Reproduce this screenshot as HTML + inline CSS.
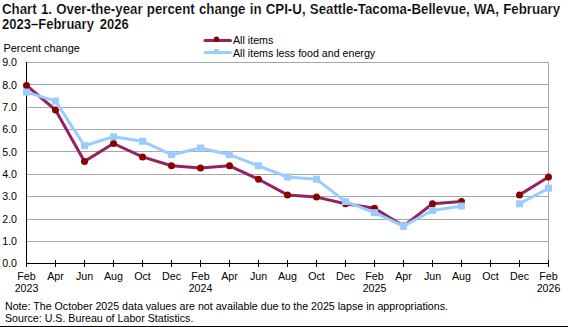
<!DOCTYPE html>
<html><head><meta charset="utf-8"><style>
html,body{margin:0;padding:0;background:#fff;}
body{width:568px;height:327px;position:relative;overflow:hidden;font-family:"Liberation Sans",sans-serif;color:#000;}
.t{-webkit-text-stroke:0.2px #fff;position:absolute;left:1.64px;top:1.6px;font-weight:bold;font-size:14px;line-height:15px;white-space:nowrap;word-spacing:0.54px;transform:scaleX(0.949);transform-origin:0 0;}
.pc{position:absolute;left:3.5px;top:42px;font-size:10.9px;line-height:12px;white-space:nowrap;}
.lg{position:absolute;left:233px;font-size:10.67px;line-height:12px;white-space:nowrap;}
.yl{position:absolute;left:0;width:17px;text-align:right;font-size:10.67px;line-height:12px;}
.xl{position:absolute;top:271px;width:40px;text-align:center;font-size:10.67px;line-height:11.7px;}
.ft{position:absolute;left:5px;font-size:10.67px;line-height:12px;white-space:nowrap;}
.bl{position:absolute;left:0;top:326px;width:568px;height:1px;background:#000;}
svg{position:absolute;left:0;top:0;}
.t2{top:16.6px;transform:scaleX(0.93);word-spacing:2.5px;}
</style></head><body>
<div class="t">Chart 1. Over-the-year percent change in CPI-U, Seattle-Tacoma-Bellevue, WA, February</div>
<div class="t t2">2023–February 2026</div>
<div class="pc">Percent change</div>
<svg width="568" height="327" viewBox="0 0 568 327"><line x1="26" y1="241.5" x2="549" y2="241.5" stroke="#A6A6A6" stroke-width="1"/><line x1="26" y1="219.5" x2="549" y2="219.5" stroke="#A6A6A6" stroke-width="1"/><line x1="26" y1="196.5" x2="549" y2="196.5" stroke="#A6A6A6" stroke-width="1"/><line x1="26" y1="174.5" x2="549" y2="174.5" stroke="#A6A6A6" stroke-width="1"/><line x1="26" y1="151.5" x2="549" y2="151.5" stroke="#A6A6A6" stroke-width="1"/><line x1="26" y1="129.5" x2="549" y2="129.5" stroke="#A6A6A6" stroke-width="1"/><line x1="26" y1="107.5" x2="549" y2="107.5" stroke="#A6A6A6" stroke-width="1"/><line x1="26" y1="84.5" x2="549" y2="84.5" stroke="#A6A6A6" stroke-width="1"/><line x1="26" y1="62.5" x2="549" y2="62.5" stroke="#A6A6A6" stroke-width="1"/><line x1="548.5" y1="62" x2="548.5" y2="263" stroke="#A6A6A6" stroke-width="1"/><line x1="26.5" y1="62" x2="26.5" y2="264" stroke="#000" stroke-width="1"/><line x1="26" y1="263.5" x2="549" y2="263.5" stroke="#000" stroke-width="1.2"/><line x1="26.5" y1="260" x2="26.5" y2="267" stroke="#000" stroke-width="1"/><line x1="55.5" y1="260" x2="55.5" y2="267" stroke="#000" stroke-width="1"/><line x1="84.5" y1="260" x2="84.5" y2="267" stroke="#000" stroke-width="1"/><line x1="113.5" y1="260" x2="113.5" y2="267" stroke="#000" stroke-width="1"/><line x1="142.5" y1="260" x2="142.5" y2="267" stroke="#000" stroke-width="1"/><line x1="171.5" y1="260" x2="171.5" y2="267" stroke="#000" stroke-width="1"/><line x1="200.5" y1="260" x2="200.5" y2="267" stroke="#000" stroke-width="1"/><line x1="229.5" y1="260" x2="229.5" y2="267" stroke="#000" stroke-width="1"/><line x1="258.5" y1="260" x2="258.5" y2="267" stroke="#000" stroke-width="1"/><line x1="287.5" y1="260" x2="287.5" y2="267" stroke="#000" stroke-width="1"/><line x1="316.5" y1="260" x2="316.5" y2="267" stroke="#000" stroke-width="1"/><line x1="345.5" y1="260" x2="345.5" y2="267" stroke="#000" stroke-width="1"/><line x1="374.5" y1="260" x2="374.5" y2="267" stroke="#000" stroke-width="1"/><line x1="403.5" y1="260" x2="403.5" y2="267" stroke="#000" stroke-width="1"/><line x1="432.5" y1="260" x2="432.5" y2="267" stroke="#000" stroke-width="1"/><line x1="461.5" y1="260" x2="461.5" y2="267" stroke="#000" stroke-width="1"/><line x1="490.5" y1="260" x2="490.5" y2="267" stroke="#000" stroke-width="1"/><line x1="519.5" y1="260" x2="519.5" y2="267" stroke="#000" stroke-width="1"/><line x1="548.5" y1="260" x2="548.5" y2="267" stroke="#000" stroke-width="1"/><polyline points="26.5,85.4 55.5,110.0 84.5,161.4 113.5,143.5 142.5,156.9 171.5,165.8 200.5,168.1 229.5,165.8 258.5,179.2 287.5,194.9 316.5,197.1 345.5,203.8 374.5,208.3 403.5,226.1 432.5,203.8 461.5,201.6" fill="none" stroke="#942260" stroke-width="3" stroke-linejoin="round"/><polyline points="519.5,194.9 548.5,177.0" fill="none" stroke="#942260" stroke-width="3" stroke-linejoin="round"/><circle cx="26.5" cy="85.4" r="3.5" fill="#8B0000"/><circle cx="55.5" cy="110.0" r="3.5" fill="#8B0000"/><circle cx="84.5" cy="161.4" r="3.5" fill="#8B0000"/><circle cx="113.5" cy="143.5" r="3.5" fill="#8B0000"/><circle cx="142.5" cy="156.9" r="3.5" fill="#8B0000"/><circle cx="171.5" cy="165.8" r="3.5" fill="#8B0000"/><circle cx="200.5" cy="168.1" r="3.5" fill="#8B0000"/><circle cx="229.5" cy="165.8" r="3.5" fill="#8B0000"/><circle cx="258.5" cy="179.2" r="3.5" fill="#8B0000"/><circle cx="287.5" cy="194.9" r="3.5" fill="#8B0000"/><circle cx="316.5" cy="197.1" r="3.5" fill="#8B0000"/><circle cx="345.5" cy="203.8" r="3.5" fill="#8B0000"/><circle cx="374.5" cy="208.3" r="3.5" fill="#8B0000"/><circle cx="403.5" cy="226.1" r="3.5" fill="#8B0000"/><circle cx="432.5" cy="203.8" r="3.5" fill="#8B0000"/><circle cx="461.5" cy="201.6" r="3.5" fill="#8B0000"/><circle cx="519.5" cy="194.9" r="3.5" fill="#8B0000"/><circle cx="548.5" cy="177.0" r="3.5" fill="#8B0000"/><polyline points="26.5,92.1 55.5,101.1 84.5,145.7 113.5,136.8 142.5,141.3 171.5,154.7 200.5,148.0 229.5,154.7 258.5,165.8 287.5,177.0 316.5,179.2 345.5,201.6 374.5,212.7 403.5,226.1 432.5,210.5 461.5,206.0" fill="none" stroke="#99CCFF" stroke-width="3" stroke-linejoin="round"/><polyline points="519.5,203.8 548.5,188.2" fill="none" stroke="#99CCFF" stroke-width="3" stroke-linejoin="round"/><rect x="23.0" y="88.6" width="7" height="7" fill="#99CCFF"/><rect x="52.0" y="97.6" width="7" height="7" fill="#99CCFF"/><rect x="81.0" y="142.2" width="7" height="7" fill="#99CCFF"/><rect x="110.0" y="133.3" width="7" height="7" fill="#99CCFF"/><rect x="139.0" y="137.8" width="7" height="7" fill="#99CCFF"/><rect x="168.0" y="151.2" width="7" height="7" fill="#99CCFF"/><rect x="197.0" y="144.5" width="7" height="7" fill="#99CCFF"/><rect x="226.0" y="151.2" width="7" height="7" fill="#99CCFF"/><rect x="255.0" y="162.3" width="7" height="7" fill="#99CCFF"/><rect x="284.0" y="173.5" width="7" height="7" fill="#99CCFF"/><rect x="313.0" y="175.7" width="7" height="7" fill="#99CCFF"/><rect x="342.0" y="198.1" width="7" height="7" fill="#99CCFF"/><rect x="371.0" y="209.2" width="7" height="7" fill="#99CCFF"/><rect x="400.0" y="222.6" width="7" height="7" fill="#99CCFF"/><rect x="429.0" y="207.0" width="7" height="7" fill="#99CCFF"/><rect x="458.0" y="202.5" width="7" height="7" fill="#99CCFF"/><rect x="516.0" y="200.3" width="7" height="7" fill="#99CCFF"/><rect x="545.0" y="184.7" width="7" height="7" fill="#99CCFF"/><line x1="205" y1="40.5" x2="230.5" y2="40.5" stroke="#942260" stroke-width="3" stroke-linecap="round"/><circle cx="216.5" cy="39.3" r="2.7" fill="#8B0000"/><rect x="214" y="49" width="5" height="4" fill="#99CCFF"/><line x1="205" y1="52.5" x2="230.5" y2="52.5" stroke="#99CCFF" stroke-width="3" stroke-linecap="round"/></svg>
<div class="lg" style="top:34px">All items</div>
<div class="lg" style="top:47px">All items less food and energy</div>
<div class="yl" style="top:257px">0.0</div><div class="yl" style="top:235px">1.0</div><div class="yl" style="top:213px">2.0</div><div class="yl" style="top:190px">3.0</div><div class="yl" style="top:168px">4.0</div><div class="yl" style="top:146px">5.0</div><div class="yl" style="top:123px">6.0</div><div class="yl" style="top:101px">7.0</div><div class="yl" style="top:79px">8.0</div><div class="yl" style="top:56px">9.0</div>
<div class="xl" style="left:6.5px">Feb<br>2023</div><div class="xl" style="left:35.5px">Apr</div><div class="xl" style="left:64.5px">Jun</div><div class="xl" style="left:93.5px">Aug</div><div class="xl" style="left:122.5px">Oct</div><div class="xl" style="left:151.5px">Dec</div><div class="xl" style="left:180.5px">Feb<br>2024</div><div class="xl" style="left:209.5px">Apr</div><div class="xl" style="left:238.5px">Jun</div><div class="xl" style="left:267.5px">Aug</div><div class="xl" style="left:296.5px">Oct</div><div class="xl" style="left:325.5px">Dec</div><div class="xl" style="left:354.5px">Feb<br>2025</div><div class="xl" style="left:383.5px">Apr</div><div class="xl" style="left:412.5px">Jun</div><div class="xl" style="left:441.5px">Aug</div><div class="xl" style="left:470.5px">Oct</div><div class="xl" style="left:499.5px">Dec</div><div class="xl" style="left:528.5px">Feb<br>2026</div>
<div class="ft" style="top:300px">Note: The October 2025 data values are not available due to the 2025 lapse in appropriations.</div>
<div class="ft" style="top:312px">Source: U.S. Bureau of Labor Statistics.</div>
<div class="bl"></div>
</body></html>
